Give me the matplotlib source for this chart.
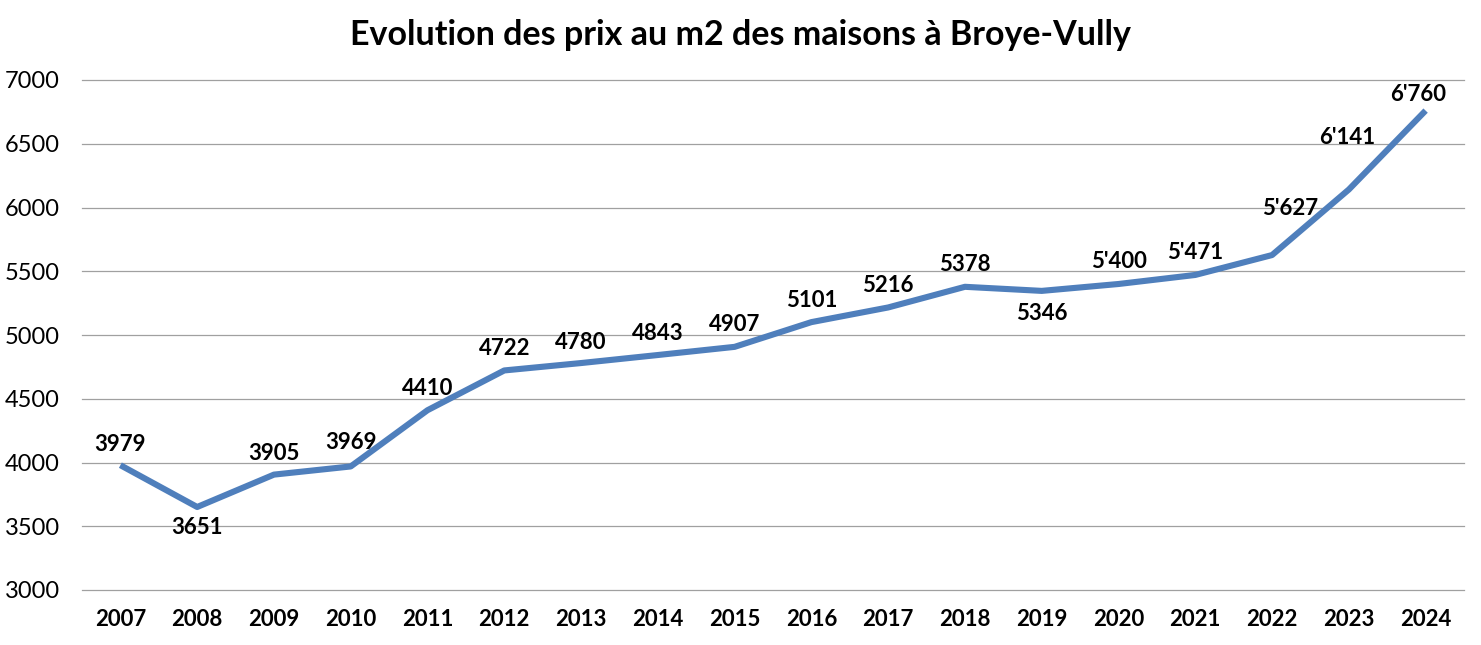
import matplotlib
matplotlib.use("Agg")
import matplotlib.pyplot as plt

years = ["2007", "2008", "2009", "2010", "2011", "2012", "2013", "2014", "2015",
         "2016", "2017", "2018", "2019", "2020", "2021", "2022", "2023", "2024"]
prices = [3979, 3651, 3905, 3969, 4410, 4722, 4780, 4843, 4907,
          5101, 5216, 5378, 5346, 5400, 5471, 5627, 6141, 6760]
labels = ["3979", "3651", "3905", "3969", "4410", "4722", "4780", "4843", "4907",
          "5101", "5216", "5378", "5346", "5'400", "5'471", "5'627", "6'141", "6'760"]
y_ticks = [3000, 3500, 4000, 4500, 5000, 5500, 6000, 6500, 7000]

# label offsets in pixels (dx, dy), positive dy = up
offsets = [(0, 21), (0, -21), (0, 21), (0, 24), (0, 22), (0, 22), (0, 21), (0, 22), (0, 22),
           (0, 22), (0, 22), (0, 22), (0, -23), (0, 22), (0, 22), (18, 47), (-2, 52), (-7, 16)]

plt.rcParams['font.family'] = ['Lato', 'DejaVu Sans']

fig = plt.figure(figsize=(14.81, 6.45), dpi=100)
ax = fig.add_axes([82/1481, 55/645, (1464-82)/1481, (590-80)/645])

x = list(range(len(years)))
ax.plot(x, prices, color="#4F7FBC", linewidth=4.4, solid_capstyle="butt", zorder=3)

for xi, yi, lab, (dx, dy) in zip(x, prices, labels, offsets):
    ax.annotate(lab, (xi, yi), xytext=(dx * 0.72, dy * 0.72), textcoords="offset points",
                ha="center", va="center", fontsize=16, fontweight="bold", color="black")

ax.set_xlim(-0.5, len(years) - 0.5)
ax.set_ylim(3000, 7000)
ax.set_yticks(y_ticks)
ax.set_yticklabels([str(v) for v in y_ticks], fontsize=17)
ax.set_xticks(x)
ax.set_xticklabels(years, fontsize=16, fontweight="bold")
ax.grid(axis="y", color="#A0A0A0", linewidth=0.9)
for gl in ax.get_ygridlines():
    gl.set_clip_on(False)
ax.set_axisbelow(True)
for s in ["top", "right", "left", "bottom"]:
    ax.spines[s].set_visible(False)
ax.tick_params(axis="both", length=0)
ax.tick_params(axis="x", pad=14)
ax.tick_params(axis="y", pad=16)

fig.text(0.5, 1 - 35/645, "Evolution des prix au m2 des maisons à Broye-Vully",
         ha="center", va="center", fontsize=24.5, fontweight="bold")

fig.savefig("out.png", dpi=100)
